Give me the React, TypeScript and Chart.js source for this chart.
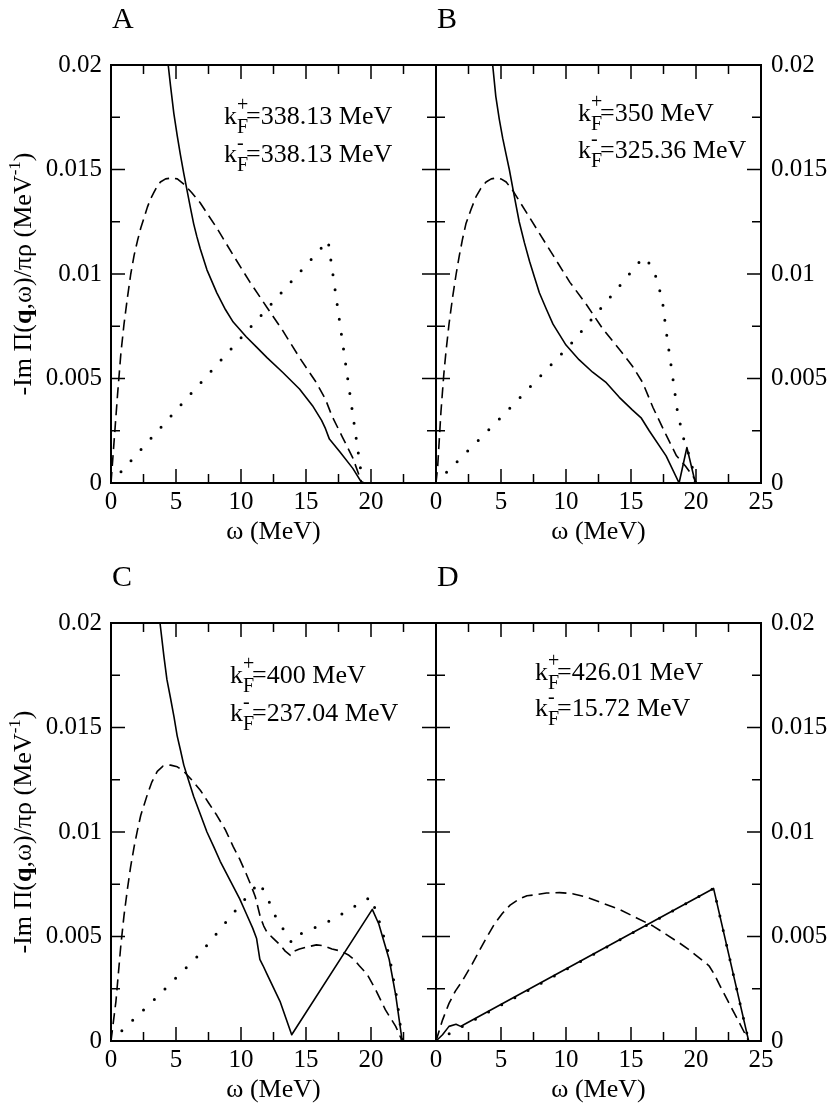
import { useEffect, useRef } from "react"
import { Chart, registerables } from "chart.js"

Chart.register(...registerables)

type Pt = [number, number]

// [ω (MeV), -Im Π/πρ (MeV^-1)]
const A_SOLID: Pt[] = [
  [4.2, 0.0215], [4.4, 0.02], [4.58, 0.019], [4.83, 0.0177], [5.1, 0.0166], [5.34, 0.0157],
  [5.6, 0.0148], [5.85, 0.014], [6.1, 0.0132], [6.36, 0.0124], [6.6, 0.0118], [6.87, 0.0112],
  [7.38, 0.0102], [8.14, 0.0091], [8.8, 0.0083], [9.4, 0.0077], [10.4, 0.007], [11.2, 0.0065],
  [12.0, 0.006], [13.2, 0.0053], [14.5, 0.0045], [15.5, 0.0037], [16.2, 0.003], [16.5, 0.0026],
  [16.8, 0.0021], [17.6, 0.0015], [18.6, 0.0007], [19.3, 0],
]
const A_DASHED: Pt[] = [
  [0, 0], [0.25, 0.0021], [0.5, 0.0042], [0.76, 0.0062], [1.0, 0.0076], [1.27, 0.0089],
  [1.52, 0.01], [1.78, 0.0109], [2.04, 0.0116], [2.29, 0.0122], [2.55, 0.0127], [2.8, 0.0132],
  [3.05, 0.0136], [3.3, 0.0139], [3.55, 0.0142], [3.8, 0.0144], [4.2, 0.01455], [4.7, 0.0146],
  [5.1, 0.01455], [5.6, 0.0143], [6.2, 0.0139], [6.87, 0.0134], [7.5, 0.0128], [8.14, 0.0122],
  [9.4, 0.0109], [10.7, 0.0096], [12.0, 0.0084], [13.2, 0.0073], [14.5, 0.006], [15.8, 0.0048],
  [16.5, 0.004], [17.0, 0.0032], [17.8, 0.0022], [18.6, 0.0012], [19.3, 0],
]
const A_DOTTED: Pt[] = [[0, 0], [16.7, 0.0116], [19.35, 0]]

const B_SOLID: Pt[] = [
  [4.15, 0.0215], [4.36, 0.02], [4.6, 0.0185], [4.87, 0.0174], [5.13, 0.0165], [5.4, 0.0157],
  [5.64, 0.015], [6.0, 0.0138], [6.4, 0.0125], [6.8, 0.0115], [7.2, 0.0106], [7.6, 0.0098],
  [7.95, 0.0091], [8.5, 0.0083], [9.0, 0.0076], [9.5, 0.0071], [10.0, 0.0066], [11.0, 0.0059],
  [12.05, 0.0053], [13.1, 0.0048], [14.1, 0.0041], [15.1, 0.0035], [15.8, 0.0031], [16.4, 0.0025],
  [17.7, 0.0013], [18.7, 0], [19.3, 0.0017], [19.95, 0],
]
const B_DASHED: Pt[] = [
  [0, 0], [0.13, 0.0008], [0.38, 0.0034], [0.6, 0.0052], [0.77, 0.0063], [1.0, 0.0076],
  [1.28, 0.0089], [1.55, 0.01], [1.8, 0.0109], [2.05, 0.0117], [2.3, 0.0124], [2.7, 0.0131],
  [3.08, 0.0137], [3.45, 0.0141], [3.85, 0.0144], [4.25, 0.01455], [4.67, 0.0146], [5.0, 0.01455],
  [5.4, 0.0144], [5.9, 0.014], [6.4, 0.0135], [7.0, 0.0129], [7.7, 0.0122], [9.0, 0.0109],
  [10.3, 0.0096], [11.5, 0.0086], [12.8, 0.0074], [14.1, 0.0064], [15.1, 0.0056], [15.9, 0.0048],
  [16.7, 0.0036], [17.7, 0.0023], [18.5, 0.0013], [19.2, 0.0008], [19.9, 0.0002], [20.0, 0],
]
const B_DOTTED: Pt[] = [
  [0, 0], [5.1, 0.0032], [10.3, 0.0066], [14.5, 0.0097], [15.5, 0.0105], [16.1, 0.0108],
  [16.8, 0.0101], [17.4, 0.0088], [17.7, 0.0073], [18.2, 0.0051], [18.6, 0.0033], [19.1, 0.002],
  [19.6, 0.0011], [19.95, 0],
]

const C_SOLID: Pt[] = [
  [3.6, 0.0215], [3.77, 0.02], [4.07, 0.0184], [4.3, 0.0173], [4.58, 0.0164], [4.85, 0.0155],
  [5.09, 0.0146], [5.35, 0.0139], [5.6, 0.0132], [6.0, 0.0124], [6.36, 0.0117], [6.9, 0.0108],
  [7.38, 0.01], [7.9, 0.0093], [8.4, 0.0086], [8.9, 0.008], [9.4, 0.0074], [9.9, 0.0068],
  [10.4, 0.0061], [10.9, 0.0054], [11.2, 0.0049], [11.45, 0.0039], [11.7, 0.0036], [12.0, 0.0032],
  [13.0, 0.0019], [13.9, 0.0003], [20.1, 0.0063], [20.6, 0.0056], [21.4, 0.0039], [21.9, 0.0022],
  [22.4, 0],
]
const C_DASHED: Pt[] = [
  [0, 0], [0.38, 0.0019], [0.76, 0.0046], [1.0, 0.006], [1.27, 0.0073], [1.5, 0.0083],
  [1.78, 0.0093], [2.04, 0.0101], [2.29, 0.0108], [2.55, 0.0113], [2.8, 0.0118], [3.15, 0.0124],
  [3.56, 0.0129], [4.0, 0.01315], [4.58, 0.0132], [5.1, 0.01312], [5.6, 0.0129], [6.2, 0.0125],
  [6.87, 0.012], [7.5, 0.0114], [8.14, 0.0108], [8.8, 0.0101], [9.4, 0.0093], [9.9, 0.0087],
  [10.4, 0.008], [10.8, 0.0074], [11.1, 0.0069], [11.3, 0.0064], [11.5, 0.0059], [11.75, 0.0055],
  [12.0, 0.0052], [12.5, 0.0049], [13.0, 0.0046], [13.4, 0.0043], [13.8, 0.0041], [14.1, 0.0043],
  [14.5, 0.0044], [15.1, 0.0045], [15.8, 0.0046], [16.4, 0.00455], [17.0, 0.0044], [17.7, 0.0043],
  [18.3, 0.0041], [18.7, 0.0039], [19.1, 0.0036], [19.7, 0.0032], [20.4, 0.0024], [21.1, 0.0015],
  [21.9, 0.0007], [22.4, 0],
]
const C_DOTTED: Pt[] = [
  [0, 0], [3.36, 0.002], [6.74, 0.0041], [10.05, 0.0066], [11.4, 0.0076], [12.0, 0.0069],
  [12.7, 0.0059], [13.5, 0.0051], [13.9, 0.0047], [14.5, 0.0051], [17.0, 0.0058], [20.0, 0.0069],
  [20.6, 0.0058], [21.4, 0.0041], [22.0, 0.002], [22.4, 0],
]

const D_SOLID: Pt[] = [
  [0, 0], [0.5, 0.0003], [1.0, 0.0007], [1.54, 0.0008], [1.9, 0.0007], [2.2, 0.0008],
  [21.35, 0.0073], [24.05, 0],
]
const D_DASHED: Pt[] = [
  [0, 0], [0.5, 0.001], [1.0, 0.0018], [1.5, 0.0024], [2.05, 0.0029], [2.8, 0.0037],
  [3.4, 0.0044], [3.85, 0.0049], [4.5, 0.0056], [5.1, 0.0061], [5.7, 0.0065], [6.4, 0.0068],
  [7.0, 0.00695], [7.7, 0.007], [8.5, 0.00708], [9.5, 0.0071], [10.5, 0.00705], [11.5, 0.0069],
  [12.8, 0.0066], [14.1, 0.0063], [15.4, 0.0059], [16.7, 0.0055], [17.7, 0.0051], [18.7, 0.0047],
  [19.4, 0.0044], [20.0, 0.0041], [20.6, 0.0038], [21.0, 0.0036], [21.4, 0.0032], [21.8, 0.0027],
  [22.3, 0.0021], [22.8, 0.0015], [23.4, 0.0008], [24.05, 0],
]
const D_DOTTED: Pt[] = [[0, 0], [21.35, 0.0073], [24.05, 0]]

const LETTERS = ["A", "B", "C", "D"]
const KF_PLUS = ["338.13", "350", "400", "426.01"]
const KF_MINUS = ["338.13", "325.36", "237.04", "15.72"]
const X_TITLE = "ω (MeV)"

const W = 830
const H = 1104
const SERIF = "'Liberation Serif', 'Times New Roman', serif"
const COL_EDGES = [[111, 436], [436, 761]]
const ROW_EDGES = [[65, 483], [623, 1041]]
const X_AXIS_H = 63
const MAJOR = 14
const MINOR = 9

interface PanelDef {
  idx: number
  col: number
  row: number
  solid: Pt[]
  dashed: Pt[]
  dotted: Pt[]
  kx: number
  ky: [number, number]
}

const PANELS: PanelDef[] = [
  { idx: 0, col: 0, row: 0, solid: A_SOLID, dashed: A_DASHED, dotted: A_DOTTED, kx: 113, ky: [59, 97] },
  { idx: 1, col: 1, row: 0, solid: B_SOLID, dashed: B_DASHED, dotted: B_DOTTED, kx: 142, ky: [56, 93] },
  { idx: 2, col: 0, row: 1, solid: C_SOLID, dashed: C_DASHED, dotted: C_DOTTED, kx: 119, ky: [60, 98] },
  { idx: 3, col: 1, row: 1, solid: D_SOLID, dashed: D_DASHED, dotted: D_DOTTED, kx: 99, ky: [57, 93] },
]

function drawKF(ctx: CanvasRenderingContext2D, x: number, y: number, sign: string, value: string) {
  ctx.font = `26px ${SERIF}`
  ctx.fillText("k", x, y)
  const kw = ctx.measureText("k").width
  ctx.font = `20px ${SERIF}`
  ctx.fillText(sign, x + kw, y - 13)
  ctx.fillText("F", x + kw, y + 9)
  const fw = ctx.measureText("F").width
  ctx.font = `26px ${SERIF}`
  ctx.fillText(`=${value} MeV`, x + kw + fw - 2, y)
}

function drawYTitle(ctx: CanvasRenderingContext2D, cx: number, cy: number) {
  const parts = [
    { t: "-Im Π(", f: `26px ${SERIF}`, dy: 0 },
    { t: "q", f: `bold 26px ${SERIF}`, dy: 0 },
    { t: ",ω)/πρ (MeV", f: `26px ${SERIF}`, dy: 0 },
    { t: "-1", f: `17px ${SERIF}`, dy: -11 },
    { t: ")", f: `26px ${SERIF}`, dy: 0 },
  ]
  ctx.save()
  ctx.translate(cx, cy)
  ctx.rotate(-Math.PI / 2)
  let total = 0
  for (const p of parts) {
    ctx.font = p.f
    total += ctx.measureText(p.t).width
  }
  let x = -total / 2
  for (const p of parts) {
    ctx.font = p.f
    ctx.fillText(p.t, x, p.dy)
    x += ctx.measureText(p.t).width
  }
  ctx.restore()
}

function makeFrame(p: PanelDef) {
  return {
    id: "frame" + p.idx,
    afterDraw(chart: Chart) {
      const { ctx, chartArea: a } = chart
      const xs = chart.scales.x
      const ys = chart.scales.y
      ctx.save()
      ctx.strokeStyle = "#000"
      ctx.fillStyle = "#000"
      ctx.lineWidth = 1.5
      ctx.beginPath()
      const xv = xs.ticks.map((t) => t.value)
      xv.forEach((v, i) => {
        const marks: [number, number][] = [[v, MAJOR]]
        if (i < xv.length - 1) marks.push([(v + xv[i + 1]) / 2, MINOR])
        for (const [val, len] of marks) {
          const px = xs.getPixelForValue(val)
          ctx.moveTo(px, a.bottom)
          ctx.lineTo(px, a.bottom - len)
          ctx.moveTo(px, a.top)
          ctx.lineTo(px, a.top + len)
        }
      })
      const yv = ys.ticks.map((t) => t.value)
      yv.forEach((v, i) => {
        const marks: [number, number][] = [[v, MAJOR]]
        if (i < yv.length - 1) marks.push([(v + yv[i + 1]) / 2, MINOR])
        for (const [val, len] of marks) {
          const py = ys.getPixelForValue(val)
          ctx.moveTo(a.left, py)
          ctx.lineTo(a.left + len, py)
          ctx.moveTo(a.right, py)
          ctx.lineTo(a.right - len, py)
        }
      })
      ctx.stroke()
      ctx.lineWidth = 2
      ctx.strokeRect(a.left, a.top, a.right - a.left, a.bottom - a.top)

      ctx.textAlign = "left"
      ctx.textBaseline = "alphabetic"
      ctx.font = `30px ${SERIF}`
      ctx.fillText(LETTERS[p.idx], a.left + 1, a.top - 37)

      drawKF(ctx, a.left + p.kx, a.top + p.ky[0], "+", KF_PLUS[p.idx])
      drawKF(ctx, a.left + p.kx, a.top + p.ky[1], "-", KF_MINUS[p.idx])

      if (p.col === 0) drawYTitle(ctx, 31, (a.top + a.bottom) / 2)
      ctx.restore()
    },
  }
}

function series(pts: Pt[], kind: "solid" | "dashed" | "dotted") {
  return {
    data: pts.map(([x, y]) => ({ x, y })),
    borderColor: "#000",
    borderWidth: kind === "dotted" ? 3 : 1.6,
    borderDash: kind === "dashed" ? [11, 6] : kind === "dotted" ? [0, 15] : [],
    borderCapStyle: (kind === "dotted" ? "round" : "butt") as CanvasLineCap,
    borderJoinStyle: "round" as CanvasLineJoin,
    pointRadius: 0,
    fill: false,
    tension: 0,
  }
}

function Panel({ p }: { p: PanelDef }) {
  const canvasRef = useRef<HTMLCanvasElement>(null)

  useEffect(() => {
    if (!canvasRef.current) return
    const left = p.col === 0
    const [x0, x1] = COL_EDGES[p.col]
    const [y0, y1] = ROW_EDGES[p.row]
    const chart = new Chart(canvasRef.current, {
      type: "line",
      data: {
        datasets: [series(p.dashed, "dashed"), series(p.solid, "solid"), series(p.dotted, "dotted")],
      },
      options: {
        responsive: false,
        animation: false,
        events: [],
        layout: {
          padding: { left: left ? 0 : x0, right: left ? W - x1 : 0, top: y0, bottom: H - y1 - X_AXIS_H },
        },
        plugins: { legend: { display: false }, tooltip: { enabled: false } },
        scales: {
          x: {
            type: "linear",
            position: "bottom",
            min: 0,
            max: 25,
            grid: { display: false, drawTicks: false },
            border: { display: false },
            ticks: {
              stepSize: 5,
              autoSkip: false,
              maxRotation: 0,
              padding: 4,
              color: "#000",
              font: { family: SERIF, size: 25 },
              callback: (v) => (left && Number(v) === 25 ? "" : String(v)),
            },
            title: {
              display: true,
              text: X_TITLE,
              color: "#000",
              font: { family: SERIF, size: 26, lineHeight: 1.1 },
              padding: 0,
            },
            afterFit: (s) => {
              s.height = X_AXIS_H
            },
          },
          y: {
            type: "linear",
            position: left ? "left" : "right",
            min: 0,
            max: 0.02,
            grid: { display: false, drawTicks: false },
            border: { display: false },
            ticks: {
              stepSize: 0.005,
              padding: left ? 9 : 10,
              color: "#000",
              font: { family: SERIF, size: 25 },
              callback: (v) => String(+Number(v).toFixed(4)),
            },
            afterFit: (s) => {
              s.width = left ? x0 : W - x1
            },
          },
        },
      },
      plugins: [makeFrame(p)],
    })
    return () => chart.destroy()
  }, [p])

  return (
    <canvas
      ref={canvasRef}
      width={W}
      height={H}
      style={{ position: "absolute", left: 0, top: 0, width: W, height: H }}
    />
  )
}

export default function App() {
  return (
    <div style={{ position: "absolute", left: 0, top: 0, width: W, height: H, background: "#fff" }}>
      {PANELS.map((p) => (
        <Panel key={p.idx} p={p} />
      ))}
    </div>
  )
}
